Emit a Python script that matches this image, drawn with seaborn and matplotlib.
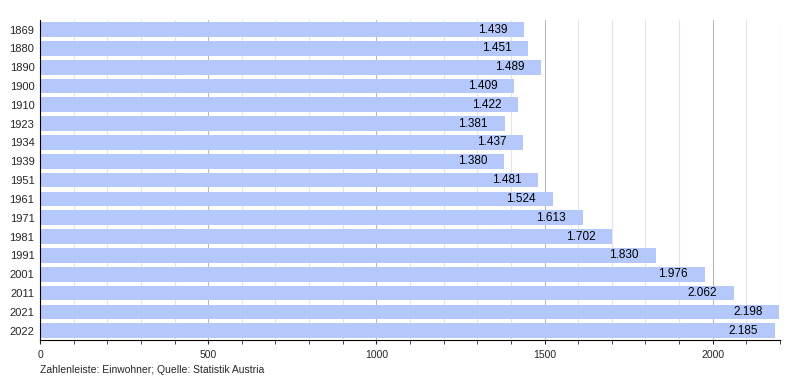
import matplotlib
matplotlib.use('Agg')
import matplotlib.pyplot as plt
import seaborn as sns
import pandas as pd
from matplotlib.ticker import MultipleLocator

#-------------------------------------------------------------------------------
# Data
#-------------------------------------------------------------------------------

YEARS = ['1869', '1880', '1890', '1900', '1910', '1923', '1934', '1939', '1951',
         '1961', '1971', '1981', '1991', '2001', '2011', '2021', '2022']
POPULATION = [1439, 1451, 1489, 1409, 1422, 1381, 1437, 1380, 1481,
              1524, 1613, 1702, 1830, 1976, 2062, 2198, 2185]
FOOTNOTE = 'Zahlenleiste: Einwohner; Quelle: Statistik Austria'

BAR_COLOUR = '#b4c8fb'

#-------------------------------------------------------------------------------
# Plot
#-------------------------------------------------------------------------------

sns.set_style('white')
plt.rcParams['font.family'] = ['Liberation Sans', 'DejaVu Sans']

df = pd.DataFrame({'year': YEARS, 'pop': POPULATION})

fig = plt.figure(figsize=(8, 3.8), dpi=100)
ax = fig.add_axes([0.05, 0.105, 0.925, 0.842])

# grid: light every 100, darker every 500
for x in range(100, 2201, 100):
    ax.axvline(x, color='#b8b8b8' if x % 500 == 0 else '#e4e4e4',
               linewidth=0.8, zorder=0)

sns.barplot(data=df, x='pop', y='year', order=YEARS, color=BAR_COLOUR,
            width=0.78, saturation=1, edgecolor='none', ax=ax, zorder=2)

for i, v in enumerate(POPULATION):
    label = f'{v:,}'.replace(',', '.')
    ax.annotate(label, (v, i), xytext=(-12, 0), textcoords='offset points',
                ha='right', va='center', fontsize=8.5, color='black', zorder=3)

ax.set_xlim(0, 2200)
ax.set_ylim(len(YEARS) - 0.5, -0.5)
ax.xaxis.set_major_locator(MultipleLocator(500))
ax.xaxis.set_minor_locator(MultipleLocator(100))
ax.tick_params(axis='x', which='major', direction='out', length=3, width=0.8,
               labelsize=7.5, pad=4, bottom=True)
ax.tick_params(axis='x', which='minor', direction='out', length=3, width=0.6,
               bottom=True)
ax.tick_params(axis='y', length=0, labelsize=8, pad=4)
ax.set_xlabel('')
ax.set_ylabel('')

for side in ['top', 'right']:
    ax.spines[side].set_visible(False)
for side in ['left', 'bottom']:
    ax.spines[side].set_color('black')
    ax.spines[side].set_linewidth(0.8)

fig.text(0.05, 0.012, FOOTNOTE, fontsize=7.5, ha='left', va='bottom')

fig.savefig('out.png', dpi=100)
